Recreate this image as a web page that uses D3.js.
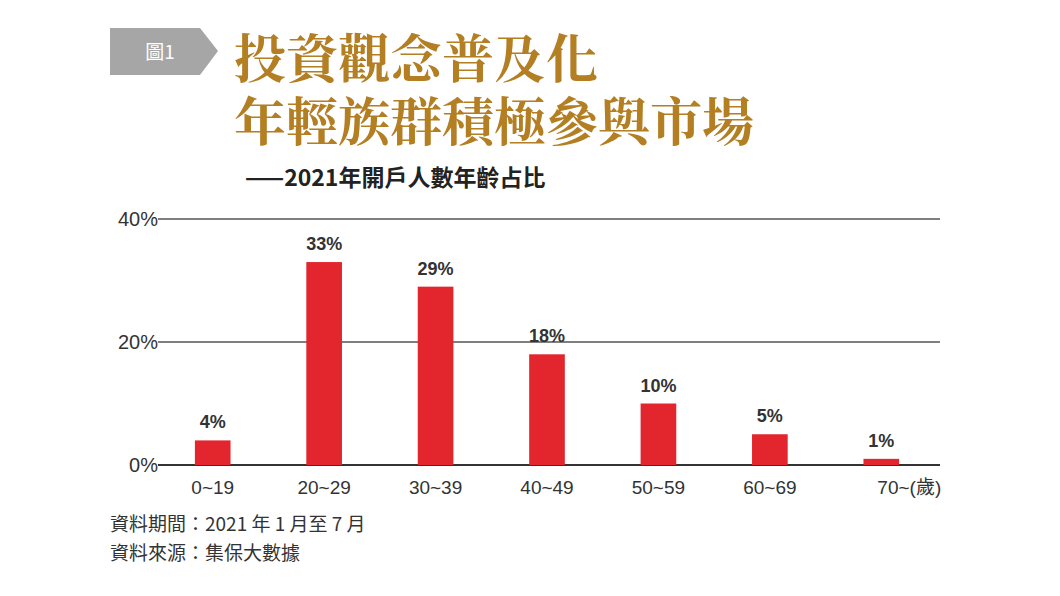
<!DOCTYPE html><html><head><meta charset="utf-8"><script src="https://cdn.jsdelivr.net/npm/d3@7"></script>
<style>body{margin:0;background:#fff}</style></head><body><svg width="1060" height="596"></svg><script>
const categories=["0~19","20~29","30~39","40~49","50~59","60~69","70~"];
const values=[4,33,29,18,10,5,1];
const yTicks=[0,20,40];
const titleLines=["投資觀念普及化","年輕族群積極參與市場"];
const subtitle="——2021年開戶人數年齡占比";
const notes=["資料期間：2021 年 1 月至 7 月","資料來源：集保大數據"];
const svg=d3.select("svg");
const x=d3.scaleBand().domain(categories).range([157,937]).paddingInner(0.68).paddingOuter(0.34);
const y=d3.scaleLinear().domain([0,40]).range([465,219]);
svg.append("path").attr("d","M110,28H200L218,51L200,75H110Z").attr("fill","#a6a6a6");
svg.append("text").attr("x",160).attr("y",59).attr("text-anchor","middle").attr("fill","#fff").attr("font-size",19).attr("font-family","Noto Sans CJK TC").text("圖1");
titleLines.forEach((t,i)=>svg.append("text").attr("x",234).attr("y",78+i*63).attr("font-size",52).attr("font-weight","bold").attr("font-family","Noto Serif CJK TC, serif").attr("fill","#b47e22").text(t));
svg.append("text").attr("x",245).attr("y",186).attr("font-size",23).attr("font-weight","bold").attr("font-family","Noto Sans CJK TC").attr("fill","#222").text(subtitle);
yTicks.forEach(v=>{
 svg.append("line").attr("x1",158).attr("x2",940).attr("y1",y(v)).attr("y2",y(v)).attr("stroke",v?"#555":"#333").attr("stroke-width",v?1.5:2);
 svg.append("text").attr("x",158).attr("y",y(v)+7).attr("text-anchor","end").attr("font-size",20).attr("font-family","Liberation Sans").attr("fill","#333").text(v+"%");
});
svg.selectAll(".b").data(values).join("rect").attr("x",(d,i)=>x(categories[i])).attr("width",x.bandwidth()).attr("y",d=>y(d)).attr("height",d=>y(0)-y(d)).attr("fill","#e3262e");
svg.selectAll(".l").data(values).join("text").attr("x",(d,i)=>x(categories[i])+x.bandwidth()/2).attr("y",d=>y(d)-12).attr("text-anchor","middle").attr("font-size",18).attr("font-weight","bold").attr("font-family","Liberation Sans").attr("fill","#333").text(d=>d+"%");
categories.forEach((c,i)=>svg.append("text").attr("x",x(c)+x.bandwidth()/2+(i==6?28:0)).attr("y",494).attr("text-anchor","middle").attr("font-size",19).attr("font-family","Liberation Sans, Noto Sans CJK TC").attr("fill","#333").text(i==6?c+"(歲)":c));
notes.forEach((n,i)=>svg.append("text").attr("x",110).attr("y",531+i*29).attr("font-size",19).attr("font-family","Noto Sans CJK TC").attr("fill","#333").text(n));
</script></body></html>
